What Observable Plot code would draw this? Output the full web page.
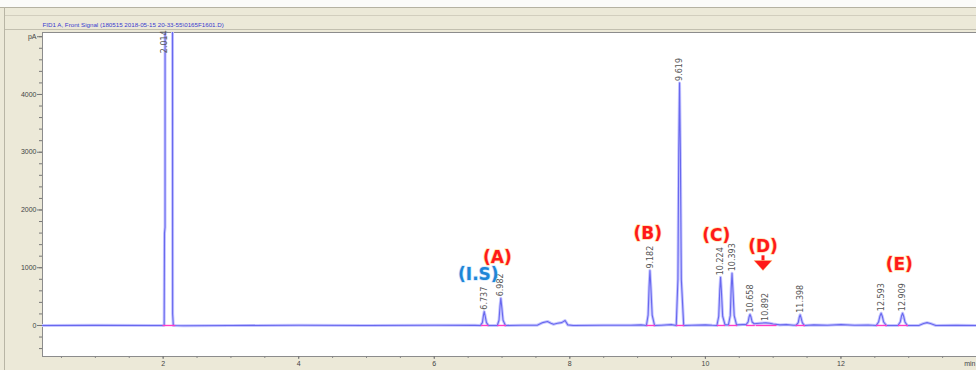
<!DOCTYPE html>
<html><head><meta charset="utf-8">
<script src="https://cdn.jsdelivr.net/npm/d3@7"></script>
<script src="https://cdn.jsdelivr.net/npm/@observablehq/plot@0.6"></script>
<style>
body{margin:0;}
#wrap{position:relative;width:976px;height:370px;background:#ECE9D8;overflow:hidden;}
.ln{position:absolute;}
#wrap svg{position:absolute;left:0;top:0;background:transparent;}
</style></head><body>
<div id="wrap">
<div class="ln" style="left:0;top:0;width:976px;height:7px;background:#fbfbf9;"></div>
<div class="ln" style="left:0;top:7px;width:976px;height:1px;background:#B5B2A2;"></div>
<div class="ln" style="left:4px;top:15px;width:972px;height:1px;background:#D2CEBE;"></div>
<div class="ln" style="left:4px;top:29px;width:972px;height:1px;background:#C2BFAF;"></div>
<div class="ln" style="left:4px;top:7px;width:1px;height:363px;background:#B8B5A5;"></div>
</div>
<script>
// ---- data ----
const title = "FID1 A, Front Signal (180515 2018-05-15 20-33-55\\0165F1601.D)";
const traceTime = [0.22,1.0,1.9,1.99,2.015,2.02,2.028,2.032,2.13,2.14,2.15,2.3,3.0,4.0,5.0,6.0,6.6,
 6.68,6.71,6.725,6.737,6.75,6.77,6.80,
 6.93,6.955,6.97,6.982,6.995,7.015,7.05,
 7.3,7.52,7.6,7.67,7.72,7.76,7.82,7.88,7.93,7.97,8.05,8.5,8.9,9.05,
 9.13,9.155,9.17,9.182,9.195,9.215,9.25,9.35,9.5,
 9.57,9.595,9.607,9.619,9.631,9.645,9.68,9.8,10.0,10.1,
 10.17,10.197,10.212,10.224,10.236,10.255,10.29,
 10.34,10.367,10.381,10.393,10.405,10.425,10.46,10.55,
 10.6,10.63,10.645,10.658,10.672,10.69,10.72,
 10.8,10.892,10.95,11.0,11.1,11.2,11.3,
 11.34,11.37,11.385,11.398,11.41,11.43,11.46,
 11.6,11.8,12.0,12.2,12.4,
 12.52,12.555,12.575,12.593,12.61,12.63,12.67,
 12.84,12.875,12.893,12.909,12.925,12.945,12.98,
 13.15,13.22,13.27,13.32,13.4,13.7,14.0];
const traceSignal = [0,2,0,0,5,1600,1700,30000,30000,200,0,-5,0,3,0,5,2,
 0,50,170,240,170,50,0,
 0,90,330,470,330,90,0,
 5,5,50,70,40,20,40,50,85,10,0,5,3,10,
 0,180,680,950,680,180,0,5,15,
 0,800,3000,4200,3000,800,0,5,10,3,
 0,160,600,835,600,160,10,
 10,170,650,905,650,170,10,15,
 15,60,150,190,150,60,30,
 40,45,40,25,10,15,5,
 5,50,140,185,140,50,0,
 10,5,15,5,8,
 0,60,160,213,160,60,0,
 0,60,160,213,160,60,0,
 0,35,50,35,0,5,0];
const peakTimes   = [2.014,6.737,6.982,9.182,9.619,10.224,10.393,10.658,10.892,11.398,12.593,12.909];
const peakHeights = [30000,240,470,950,4200,835,905,190,45,185,213,213];
const peakLabels  = ["2.014","6.737","6.982","9.182","9.619","10.224","10.393","10.658","10.892","11.398","12.593","12.909"];
const intStart    = [1.99,6.69,6.93,9.13,9.57,10.17,10.34,10.60,10.74,11.33,12.52,12.84];
const intEnd      = [2.18,6.80,7.06,9.26,9.69,10.29,10.47,10.73,11.05,11.47,12.68,12.99];
const labelCap = 4680; // top of plot: clipped peak labels placed here
const annText = ["(I.S)","(A)","(B)","(C)","(D)","(E)"];
const annTime = [6.65,6.93,9.15,10.16,10.85,12.86];
const annSignal = [890,1180,1585,1560,1360,1050];
const annColor = ["#1E86D6","#FF1A1A","#FF1A1A","#FF1A1A","#FF1A1A","#FF1A1A"];
const annGlow  = ["#B8DCFF","#FFD070","#FFD070","#FFD070","#FFD070","#FFD070"];
const arrowTime = [10.85];
const arrowTop = [1215];
const arrowBase = [1125];
const yTickValues = [0,1000,2000,3000,4000,5000];
const yTickLabels = ["0","1000","2000","3000","4000","pA"];
const yMinor = d3.range(-400, 5001, 200);
const xTickValues = [2,4,6,8,10,12];
const xTickLabels = ["2","4","6","8","10","12"];
const xMinor = d3.range(0.5, 14, 0.5);

// ---- build ----
const pts = traceTime.map((t,i)=>({t, v: traceSignal[i]}));
const peaks = peakTimes.map((t,i)=>({t, h: peakHeights[i], label: peakLabels[i], s: intStart[i], e: intEnd[i]}));
const ann = annText.map((s,i)=>({s, t: annTime[i], v: annSignal[i], c: annColor[i], g: annGlow[i]}));
const arrows = arrowTime.map((t,i)=>({t, top: arrowTop[i], base: arrowBase[i]}));
const headSymbol = {draw(ctx){ ctx.moveTo(-9,0); ctx.lineTo(9,0); ctx.lineTo(0,10); ctx.closePath(); }};

const chart = Plot.plot({
  width: 976, height: 370,
  marginTop: 32, marginLeft: 42, marginRight: 0, marginBottom: 14,
  style: {background: "transparent", fontFamily: "'Liberation Sans', Arial, sans-serif", fontSize: "7px", color: "#333", overflow: "visible"},
  x: {domain: [0.22, 14]},
  y: {domain: [-537, 5073]},
  marks: [
    Plot.frame({fill: "white", stroke: "#8c8c8c"}),
    Plot.axisY(yMinor, {tickSize: 3, tickFormat: () => "", stroke: "#777"}),
    Plot.axisY(yTickValues, {tickSize: 5, tickPadding: 1, stroke: "#777", fill: "#444",
      tickFormat: d => yTickLabels[yTickValues.indexOf(d)]}),
    Plot.axisX(xMinor, {tickSize: 2, tickFormat: () => "", stroke: "#888"}),
    Plot.axisX(xTickValues, {tickSize: 3, tickPadding: 2, stroke: "#777", fill: "#444",
      tickFormat: d => xTickLabels[xTickValues.indexOf(d)]}),
    Plot.text(["min"], {frameAnchor: "bottom-right", dy: 9, dx: -1, textAnchor: "end", fill: "#444", fontSize: 7}),
    Plot.text([title], {frameAnchor: "top-left", dy: -10, dx: 0, textAnchor: "start", fill: "#3A3AD0", fontSize: 6.2}),
    Plot.line(pts, {x: "t", y: "v", stroke: "#C6C6FF", strokeWidth: 3, clip: true}),
    Plot.line(pts, {x: "t", y: "v", stroke: "#6868EE", strokeWidth: 1.1, clip: true}),
    Plot.link(peaks, {x1: "s", x2: "e", y1: 0, y2: 0, stroke: "#FF3CC8", strokeWidth: 1.4}),
    Plot.text(peaks, {x: "t", y: d => Math.min(d.h, labelCap), text: "label", rotate: -90, textAnchor: "start",
      dy: -2, fill: "#555", fontSize: 8, fontFamily: "'DejaVu Sans', sans-serif"}),
    Plot.text(ann, {x: "t", y: "v", text: "s", fill: "c", stroke: "g", strokeWidth: 1.6, strokeOpacity: 0.6,
      fontWeight: "bold", fontSize: 17, fontFamily: "'DejaVu Sans', sans-serif"}),
    Plot.link(arrows, {x1: "t", x2: "t", y1: "top", y2: "base", stroke: "#FF1A1A", strokeWidth: 3}),
    Plot.dot(arrows, {x: "t", y: "base", symbol: headSymbol, fill: "#FF1A1A", stroke: "#FFD070", strokeOpacity: 0.4, strokeWidth: 1})
  ]
});
document.getElementById("wrap").appendChild(chart);
</script>
</body></html>
